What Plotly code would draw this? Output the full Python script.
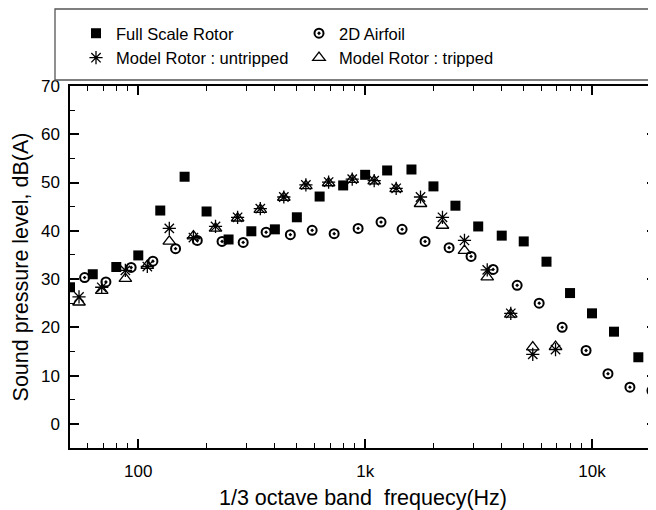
import plotly.graph_objects as go

# Full Scale Rotor (1/3 octave band centres)
full_freq = [50, 63, 80, 100, 125, 160, 200, 250, 315, 400, 500, 630, 800, 1000,
             1250, 1600, 2000, 2500, 3150, 4000, 5000, 6300, 8000, 10000, 12500, 16000]
full_spl = [28.3, 31.0, 32.5, 34.9, 44.2, 51.2, 44.0, 38.2, 39.9, 40.3, 42.8, 47.1, 49.4, 51.6,
            52.5, 52.7, 49.2, 45.2, 40.9, 39.0, 37.8, 33.6, 27.1, 22.9, 19.1, 13.8]

# 2D Airfoil
air_freq = [58, 72, 93, 116, 146, 182, 234, 290, 366, 468, 584, 730, 931, 1175,
            1455, 1837, 2344, 2930, 3664, 4677, 5848, 7387, 9414, 11756, 14690, 18370]
air_spl = [30.3, 29.4, 32.4, 33.7, 36.3, 38.0, 37.8, 37.6, 39.7, 39.2, 40.1, 39.4, 40.5, 41.8,
           40.3, 37.8, 36.5, 34.7, 32.0, 28.7, 25.0, 20.0, 15.2, 10.4, 7.6, 6.9]

# Model Rotor
model_freq = [54.8, 69, 87.7, 109.6, 137, 175, 219, 274, 345, 438, 548, 690, 877, 1096,
              1370, 1754, 2192, 2740, 3452, 4384, 5480, 6905]
untripped_spl = [26.3, 28.3, 31.8, 32.6, 40.5, 38.6, 40.9, 42.8, 44.6, 47.0, 49.5, 50.1, 50.7, 50.4,
                 48.8, 47.0, 42.8, 38.0, 31.9, 22.9, 14.4, 15.4]
tripped_spl = [25.2, 27.6, 30.1, 32.8, 37.8, 38.9, 40.5, 42.6, 44.4, 46.9, 49.3, 49.9, 50.6, 50.3,
               48.7, 45.6, 41.1, 35.9, 30.4, 22.7, 15.9, 16.0]

x_tickvals = [100, 1000, 10000]
x_ticktext = ["100", "1k", "10k"]

FONT = "Liberation Sans, Arial, sans-serif"

# page has an 8px body margin; the figure is sized to fill the rest of the window
W, H = 648, 502

fig = go.Figure()
fig.add_trace(go.Scatter(x=full_freq, y=full_spl, mode="markers", name="Full Scale Rotor",
                         marker=dict(symbol="square", size=10, color="black")))
fig.add_trace(go.Scatter(x=air_freq, y=air_spl, mode="markers", name="2D Airfoil",
                         marker=dict(symbol="circle-open-dot", size=9, color="black",
                                     line=dict(width=2, color="black"))))
fig.add_trace(go.Scatter(x=model_freq, y=untripped_spl, mode="markers", name="Model Rotor : untripped",
                         marker=dict(symbol="asterisk-open", size=11, color="black",
                                     line=dict(width=1.3, color="black"))))
fig.add_trace(go.Scatter(x=model_freq, y=tripped_spl, mode="markers", name="Model Rotor : tripped",
                         marker=dict(symbol="triangle-up-open", size=11, color="black",
                                     line=dict(width=1.3, color="black"))))

minor_x = []
for d in [10, 100, 1000, 10000]:
    for k in range(2, 10):
        minor_x.append(d * k)

fig.update_layout(
    width=W, height=H,
    margin=dict(l=62, r=0, t=78, b=62, autoexpand=False),
    paper_bgcolor="white", plot_bgcolor="white",
    font=dict(family=FONT, color="black", size=17),
    showlegend=True,
    legend=dict(orientation="h", xref="container", yref="container",
                x=68 / W, y=1 - 8 / H, xanchor="left", yanchor="top",
                entrywidthmode="pixels", entrywidth=178,
                font=dict(family=FONT, size=16.5, color="black"),
                bgcolor="rgba(0,0,0,0)", borderwidth=0),
    xaxis=dict(type="log", range=[1.699, 4.282], automargin=False,
               tickmode="array", tickvals=x_tickvals, ticktext=x_ticktext,
               ticks="inside", ticklen=9, tickwidth=1.5, tickcolor="black",
               minor=dict(tickmode="array", tickvals=minor_x, ticks="inside", ticklen=5,
                          tickwidth=1.2, tickcolor="black", showgrid=False),
               showline=True, linecolor="black", linewidth=1.5, mirror="ticks",
               showgrid=False, zeroline=False, ticklabelstandoff=7,
               title=dict(text="1/3 octave band \u00a0frequecy(Hz)", font=dict(size=21.5), standoff=10)),
    yaxis=dict(range=[-5, 70], automargin=False, tickmode="linear", tick0=0, dtick=10,
               ticks="inside", ticklen=9, tickwidth=1.5, tickcolor="black",
               minor=dict(tick0=0, dtick=5, ticks="inside", ticklen=5, tickwidth=1.2,
                          tickcolor="black", showgrid=False),
               showline=True, linecolor="black", linewidth=1.5, mirror="ticks",
               showgrid=False, zeroline=False, ticklabelstandoff=5,
               title=dict(text="Sound pressure level, dB(A)", font=dict(size=21.5), standoff=6)),
    shapes=[dict(type="rect", xref="paper", yref="paper",
                 x0=(55 - 70) / 586, x1=(700 - 70) / 586,
                 y0=(448 - 9) / 362, y1=(448 - 80) / 362,
                 line=dict(color="#555555", width=1.3), fillcolor="rgba(0,0,0,0)", layer="above")],
)

fig.write_html("out.html")
